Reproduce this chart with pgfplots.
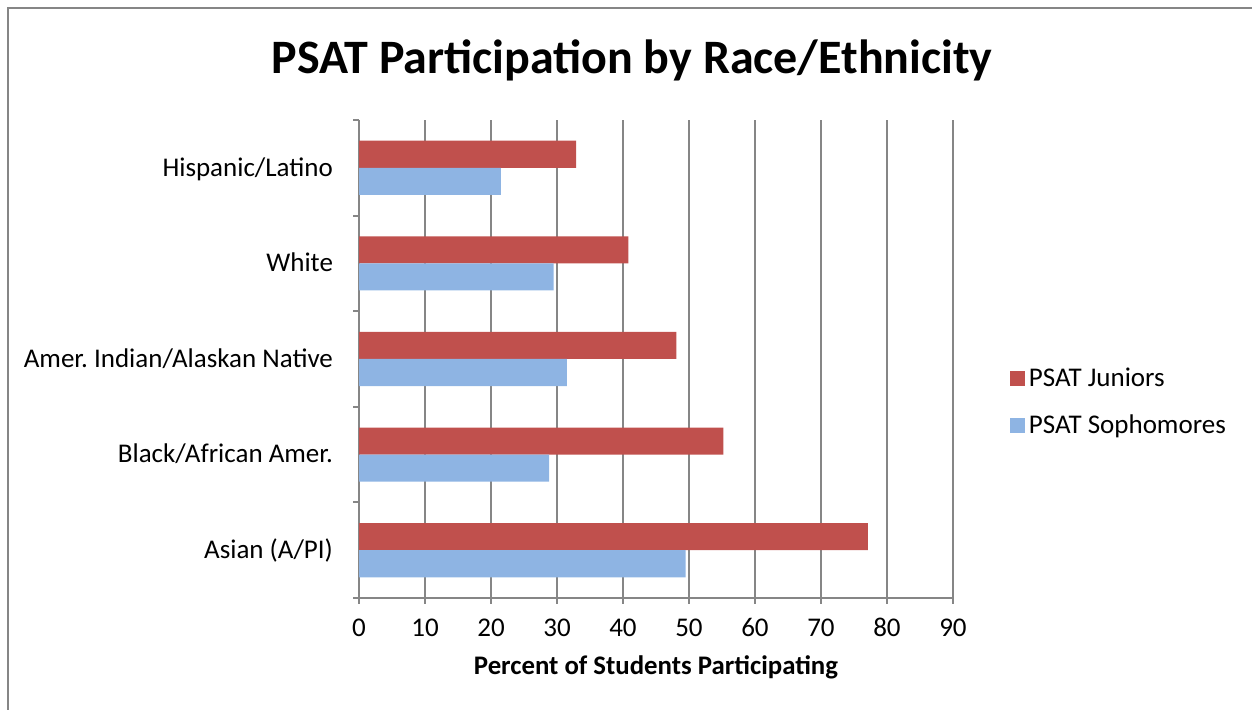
\documentclass[border=0pt]{standalone}
\usepackage{fontspec}
\setmainfont{Carlito}
\usepackage{pgfplots}
\pgfplotsset{compat=1.18}
\definecolor{jun}{HTML}{C0504D}
\definecolor{soph}{HTML}{8EB4E3}
\definecolor{axgray}{HTML}{868686}
\frenchspacing
\begin{document}
\begin{tikzpicture}
% 1 px of the reference = 0.5pt
\useasboundingbox (0pt,0pt) rectangle (626pt,-355pt);
\draw[axgray,line width=1pt] (4pt,-355pt) -- (4pt,-4pt) -- (626pt,-4pt);
\node[font=\bfseries\fontsize{24}{28}\selectfont] at (316pt,-30pt) {PSAT Participation by Race/Ethnicity};
\begin{axis}[
  at={(179.5pt,-60pt)}, anchor=north west,
  scale only axis, width=297pt, height=239pt,
  xbar, bar width=0.283,
  xmin=0, xmax=90, xtick={0,10,...,90},
  ymin=-0.5, ymax=4.5,
  ytick={0,1,2,3,4},
  yticklabels={Asian (A/PI),Black/African Amer.,Amer.\ Indian/Alaskan Native,White,Hispanic/Latino},
  minor ytick={-0.5,0.5,...,4.5},
  axis x line*=bottom, axis y line*=left,
  axis line style={axgray,line width=1pt},
  tick align=outside, major tick length=3pt, minor tick length=3pt,
  major x tick style={axgray,line width=1pt},
  major y tick style={draw=none},
  minor y tick style={axgray,line width=1pt},
  xmajorgrids, grid style={axgray,line width=1pt},
  tick label style={font=\fontsize{13.5}{16}\selectfont},
  typeset ticklabels with strut,
  /pgf/number format/assume math mode=true,
  yticklabel style={xshift=-6.5pt, yshift=-1pt},
  xticklabel style={yshift=-1.5pt},
  xlabel={\bfseries Percent of Students Participating},
  xlabel style={font=\fontsize{13.4}{16}\selectfont, yshift=2pt},
  legend style={at={(1.085,0.41)}, anchor=west, draw=none, fill=none,
    font=\fontsize{13.5}{16}\selectfont, row sep=8.5pt},
  legend cell align=left,
  legend image code/.code={\fill[#1] (0pt,-3.75pt) rectangle (7.5pt,3.75pt);},
]
\addplot[fill=jun, draw=none, bar shift=0.1415] coordinates {(77.1,0) (55.2,1) (48.1,2) (40.8,3) (32.9,4)};
\addplot[fill=soph, draw=none, bar shift=-0.1415] coordinates {(49.5,0) (28.8,1) (31.5,2) (29.5,3) (21.5,4)};
\legend{PSAT Juniors, PSAT Sophomores}
\end{axis}
\end{tikzpicture}
\end{document}
